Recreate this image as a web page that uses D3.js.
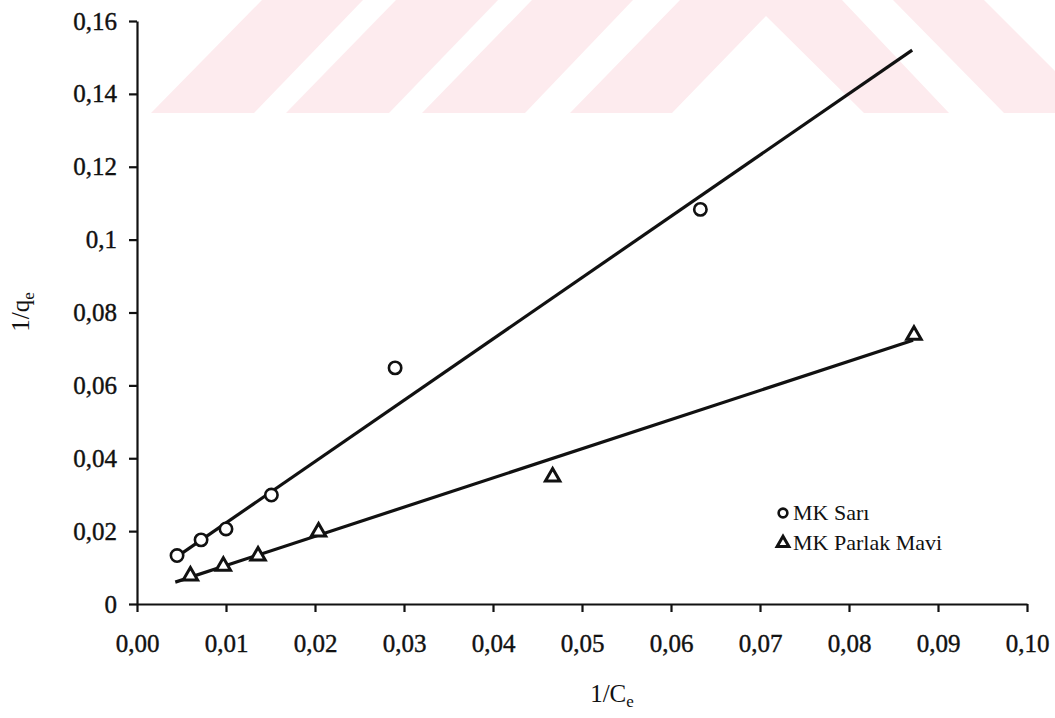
<!DOCTYPE html>
<html>
<head>
<meta charset="utf-8">
<script src="https://cdn.jsdelivr.net/npm/d3@7"></script>
<style>
  html, body { margin: 0; padding: 0; background: #fff; }
  svg { display: block; }
  svg text { font-family: "Liberation Serif", "Times New Roman", Times, serif !important; fill: #111; }
</style>
</head>
<body>
<svg id="chart" width="1055" height="718"></svg>
<script>
// ---- data ----
const sariX = [0.0045, 0.0072, 0.0100, 0.0151, 0.0290, 0.0633];
const sariY = [0.0133, 0.0176, 0.0206, 0.0299, 0.0648, 0.1083];
const parlakX = [0.0060, 0.0097, 0.0136, 0.0204, 0.0467, 0.0873];
const parlakY = [0.0077, 0.0104, 0.0132, 0.0198, 0.0349, 0.0738];
// fitted lines (end points)
const sariFitX = [0.0045, 0.0871];
const sariFitY = [0.0130, 0.1520];
const parlakFitX = [0.0043, 0.0872];
const parlakFitY = [0.0060, 0.0724];
const seriesNames = ["MK Sarı", "MK Parlak Mavi"];
const xTicks = [0, 0.01, 0.02, 0.03, 0.04, 0.05, 0.06, 0.07, 0.08, 0.09, 0.10];
const xTickLabels = ["0,00", "0,01", "0,02", "0,03", "0,04", "0,05", "0,06", "0,07", "0,08", "0,09", "0,10"];
const yTicks = [0, 0.02, 0.04, 0.06, 0.08, 0.10, 0.12, 0.14, 0.16];
const yTickLabels = ["0", "0,02", "0,04", "0,06", "0,08", "0,1", "0,12", "0,14", "0,16"];

const svg = d3.select("#chart");

// ---- background watermark (decorative) ----
const wm = svg.append("g").attr("fill", "#fdebee");
const stripes = [
  [[151,113],[262,0],[363,0],[254,113]],
  [[286,113],[396,0],[498,0],[389,113]],
  [[422,113],[532,0],[633,0],[525,113]],
  [[570,113],[680,0],[842,0],[949,113],[864,113],[766,16],[672,113]],
  [[893,0],[984,0],[1097,113],[1004,113]]
];
stripes.forEach(p => wm.append("path").attr("d", "M" + p.map(q => q.join(",")).join("L") + "Z"));

// ---- scales ----
const x = d3.scaleLinear().domain([0, 0.10]).range([137, 1027]);
const y = d3.scaleLinear().domain([0, 0.16]).range([604, 21]);

// ---- axes ----
const xAxis = svg.append("g")
  .attr("transform", `translate(0,${y(0)})`)
  .call(d3.axisBottom(x).tickValues(xTicks).tickFormat((d, i) => xTickLabels[i])
    .tickSize(8).tickSizeOuter(0).tickPadding(22));
const yAxis = svg.append("g")
  .attr("transform", `translate(${x(0)},0)`)
  .call(d3.axisLeft(y).tickValues(yTicks).tickFormat((d, i) => yTickLabels[i])
    .tickSize(8).tickSizeOuter(0).tickPadding(12));
[xAxis, yAxis].forEach(a => {
  a.attr("font-family", null);
  a.select(".domain").attr("stroke", "#111").attr("stroke-width", 2.2);
  a.selectAll(".tick line").attr("stroke", "#111").attr("stroke-width", 2.2);
  a.selectAll(".tick text").attr("font-size", 25).attr("fill", "#111")
    .attr("stroke", "#111").attr("stroke-width", 0.4);
});

// ---- fitted lines ----
const line = d3.line().x(d => x(d[0])).y(d => y(d[1]));
svg.append("path").datum(d3.zip(sariFitX, sariFitY))
  .attr("d", line).attr("fill", "none").attr("stroke", "#111").attr("stroke-width", 3.2);
svg.append("path").datum(d3.zip(parlakFitX, parlakFitY))
  .attr("d", line).attr("fill", "none").attr("stroke", "#111").attr("stroke-width", 3.2);

// ---- markers ----
const circ = d3.symbol().type(d3.symbolCircle).size(120);
const tri = d3.symbol().type(d3.symbolTriangle).size(90);
svg.append("g").selectAll("path").data(d3.zip(sariX, sariY)).join("path")
  .attr("d", circ).attr("transform", d => `translate(${x(d[0])},${y(d[1])})`)
  .attr("fill", "#fff").attr("stroke", "#111").attr("stroke-width", 2.6);
svg.append("g").selectAll("path").data(d3.zip(parlakX, parlakY)).join("path")
  .attr("d", tri).attr("transform", d => `translate(${x(d[0])},${y(d[1])})`)
  .attr("fill", "#fff").attr("stroke", "#111").attr("stroke-width", 3);

// ---- legend ----
const legend = svg.append("g").attr("transform", "translate(783,513)");
legend.append("path").attr("d", d3.symbol().type(d3.symbolCircle).size(60))
  .attr("fill", "#fff").attr("stroke", "#111").attr("stroke-width", 2.6);
legend.append("path").attr("d", d3.symbol().type(d3.symbolTriangle).size(60))
  .attr("transform", "translate(0,30)")
  .attr("fill", "#fff").attr("stroke", "#111").attr("stroke-width", 3);
legend.append("text").attr("x", 10).attr("y", 7).attr("font-size", 22).text(seriesNames[0]);
legend.append("text").attr("x", 10).attr("y", 37).attr("font-size", 22).text(seriesNames[1]);

// ---- axis titles ----
const xt = svg.append("text").attr("x", 612).attr("y", 702).attr("text-anchor", "middle").attr("font-size", 25);
xt.append("tspan").text("1/C");
xt.append("tspan").attr("dy", 5).attr("font-size", 17).text("e");
const yt = svg.append("text").attr("transform", "translate(29,312) rotate(-90)")
  .attr("text-anchor", "middle").attr("font-size", 25);
yt.append("tspan").text("1/q");
yt.append("tspan").attr("dy", 5).attr("font-size", 17).text("e");
</script>
</body>
</html>
